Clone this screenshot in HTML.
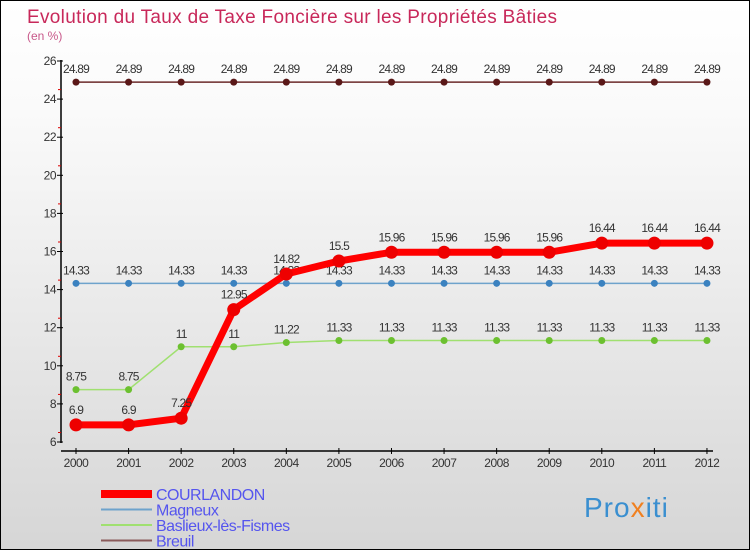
<!DOCTYPE html>
<html><head><meta charset="utf-8"><style>
body{margin:0}
#c{width:750px;height:550px;position:relative;box-sizing:border-box;border:1px solid #000;background:linear-gradient(#fff,#fafafa 20%,#d6d6d6);font-family:"Liberation Sans",sans-serif;overflow:hidden}
svg text{font-family:"Liberation Sans",sans-serif}
</style></head><body>
<div id="c">
<svg id="s" width="750" height="550">
<text x="26" y="22" font-size="19" fill="#c8285a" textLength="530">Evolution du Taux de Taxe Foncière sur les Propriétés Bâties</text>
<text x="26" y="39" font-size="12" fill="#c8588a">(en %)</text>
<text x="583" y="516" font-size="28" fill="#3a8fd0" letter-spacing="1">Pro<tspan fill="#f08020">x</tspan>iti</text>
</svg>
</div>
<script>
const years=[2000,2001,2002,2003,2004,2005,2006,2007,2008,2009,2010,2011,2012];
const yTicks=[6,8,10,12,14,16,18,20,22,24,26];
const courlandon=[6.9,6.9,7.25,12.95,14.82,15.5,15.96,15.96,15.96,15.96,16.44,16.44,16.44];
const magneux=[14.33,14.33,14.33,14.33,14.33,14.33,14.33,14.33,14.33,14.33,14.33,14.33,14.33];
const baslieux=[8.75,8.75,11,11,11.22,11.33,11.33,11.33,11.33,11.33,11.33,11.33,11.33];
const breuil=[24.89,24.89,24.89,24.89,24.89,24.89,24.89,24.89,24.89,24.89,24.89,24.89,24.89];
const names=["COURLANDON","Magneux","Baslieux-lès-Fismes","Breuil"];
const NS="http://www.w3.org/2000/svg",svg=document.getElementById('s');
const xs=i=>75+i*52.58, ys=v=>441-(v-6)*19.05;
function mk(t,a,p){const e=document.createElementNS(NS,t);for(const k in a)e.setAttribute(k,a[k]);(p||svg).appendChild(e);return e;}
let ax=mk('line',{x1:60,y1:59,x2:60,y2:442,stroke:'#000','stroke-width':1.5});


let bx=mk('line',{x1:60,y1:450,x2:712,y2:450,stroke:'#000','stroke-width':1.5});


yTicks.forEach(v=>{const y=ys(v);
mk('line',{x1:56,x2:62,y1:y,y2:y,stroke:'#000'});
if(v<26)mk('line',{x1:57,x2:60,y1:y-9.5,y2:y-9.5,stroke:'#d00'});
const t=mk('text',{x:55,y:y+4,'font-size':12,fill:'#333','text-anchor':'end','letter-spacing':'-0.5'});t.textContent=v;

});
years.forEach((yr,i)=>{const x=xs(i);mk('line',{x1:x,x2:x,y1:447,y2:453,stroke:'#000'});
const t=mk('text',{x:x,y:466,'font-size':12,fill:'#333','text-anchor':'middle','letter-spacing':'-0.5'});t.textContent=yr;

});
const series=[[breuil,'#6b2a2a','#5a1818',1.5,3.5,-9],[magneux,'#6ea3cc','#3b82c0',1.5,3.5,-9],[baslieux,'#a0e070','#6cc030',1.5,3.5,-9],[courlandon,'#f00','#e00',7,6.5,-11]];
series.forEach(([d,c,pc,w,r,o],si)=>{
const g=mk('g',{});


mk('polyline',{points:d.map((v,i)=>xs(i)+','+ys(v)).join(' '),fill:'none',stroke:c,'stroke-width':w},g);
d.forEach((v,i)=>{const p=mk('circle',{cx:xs(i),cy:ys(v),r:r,fill:pc},g);


const t=mk('text',{x:xs(i),y:ys(v)+o,'font-size':12,fill:'#333','text-anchor':'middle','letter-spacing':'-0.8'},g);t.textContent=v;});});
const lc=['#f00','#6ea3cc','#a0e070','#8a5a5a'],lw=[8,2,2,2];
names.forEach((n,i)=>{const y=493+i*15.5;
const l=mk('line',{x1:100,x2:151,y1:y,y2:y,stroke:lc[i],'stroke-width':lw[i]});


const t=mk('text',{x:155,y:y+6,'font-size':16,fill:'#5555ee','letter-spacing':'-0.5'});t.textContent=n;

});
</script>
</body></html>
